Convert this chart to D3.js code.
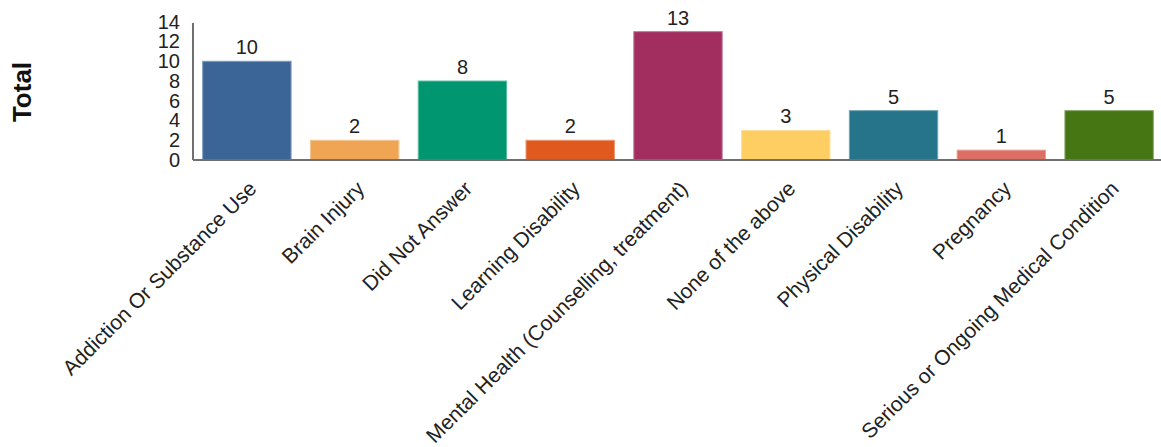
<!DOCTYPE html>
<html>
<head>
<meta charset="utf-8">
<script src="https://cdn.jsdelivr.net/npm/d3@7"></script>
<style>
  html, body { margin: 0; padding: 0; background: #fff; }
  svg { display: block; font-family: "Liberation Sans", Arial, sans-serif; }
</style>
</head>
<body>
<svg id="chart" width="1161" height="447"></svg>
<script>
// Responses per category
const categories = [
  "Addiction Or Substance Use",
  "Brain Injury",
  "Did Not Answer",
  "Learning Disability",
  "Mental Health (Counselling, treatment)",
  "None of the above",
  "Physical Disability",
  "Pregnancy",
  "Serious or Ongoing Medical Condition"
];
const totals = [10, 2, 8, 2, 13, 3, 5, 1, 5];
const barColors = [
  "#3a6596", "#f0a555", "#009670", "#e05a1f", "#a12e5e",
  "#fece63", "#26748a", "#dc6e63", "#467613"
];
const yTicks = [0, 2, 4, 6, 8, 10, 12, 14];
const yTitle = "Total";

const svg = d3.select("#chart");
const baseY = 160, topY = 21.8, leftX = 193, rightX = 1163;

const x = d3.scaleBand()
  .domain(categories)
  .range([leftX, rightX])
  .paddingInner(0.18)
  .paddingOuter(0.09);

const y = d3.scaleLinear().domain([0, 14]).range([baseY, topY]);

const data = categories.map((c, i) => ({ cat: c, value: totals[i], color: barColors[i] }));

// Bars
svg.append("g").selectAll("rect")
  .data(data)
  .join("rect")
  .attr("x", d => x(d.cat))
  .attr("y", d => y(d.value))
  .attr("width", x.bandwidth())
  .attr("height", d => y(0) - y(d.value))
  .attr("fill", d => d.color)
  .attr("stroke", d => d3.interpolateRgb(d.color, "#fff")(0.35))
  .attr("stroke-width", 1);

// Value labels above bars
svg.append("g").selectAll("text")
  .data(data)
  .join("text")
  .attr("x", d => x(d.cat) + x.bandwidth() / 2)
  .attr("y", d => y(d.value) - 7)
  .attr("text-anchor", "middle")
  .attr("font-size", 20)
  .attr("fill", "#222")
  .text(d => d.value);

// X axis: baseline and rotated category labels
const xAxis = svg.append("g")
  .attr("transform", `translate(0,${baseY})`)
  .call(d3.axisBottom(x).tickSize(0).tickSizeOuter(0));
xAxis.select(".domain")
  .attr("d", `M${leftX},0H1161`)
  .attr("stroke", "#707070")
  .attr("stroke-width", 2);
xAxis.selectAll(".tick text")
  .attr("font-size", 21)
  .attr("font-family", "Liberation Sans, Arial, sans-serif")
  .attr("fill", "#222")
  .attr("text-anchor", "end")
  .attr("x", 11)
  .attr("y", 30)
  .attr("dy", 0)
  .attr("transform", "rotate(-45, 11, 30)");

// Y axis: line and tick labels
const yAxis = svg.append("g")
  .attr("transform", `translate(${leftX},0)`)
  .call(d3.axisLeft(y).tickValues(yTicks).tickSize(0).tickSizeOuter(0).tickPadding(13));
yAxis.select(".domain")
  .attr("d", `M0,23V${baseY}`)
  .attr("stroke", "#707070")
  .attr("stroke-width", 2);
yAxis.selectAll(".tick text")
  .attr("font-size", 20)
  .attr("font-family", "Liberation Sans, Arial, sans-serif")
  .attr("fill", "#222");

// Y axis title
svg.append("text")
  .attr("transform", "translate(31,92) rotate(-90)")
  .attr("text-anchor", "middle")
  .attr("font-size", 26)
  .attr("font-weight", "bold")
  .attr("fill", "#111")
  .text(yTitle);
</script>
</body>
</html>
